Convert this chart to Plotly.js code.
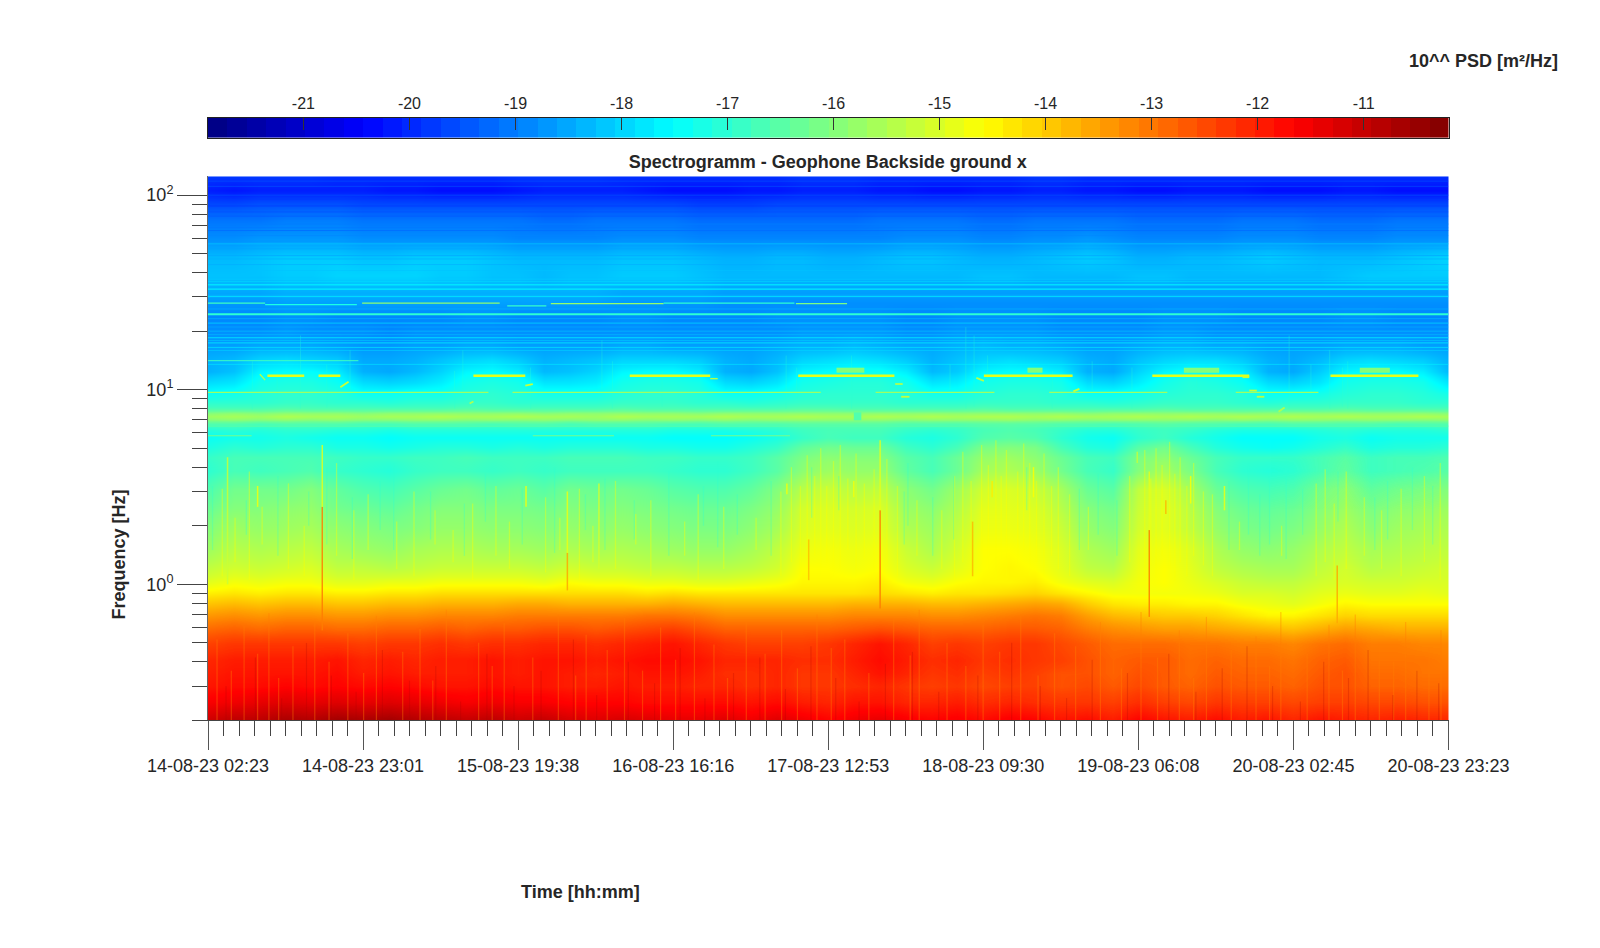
<!DOCTYPE html>
<html><head><meta charset="utf-8">
<script src="https://cdn.plot.ly/plotly-3.0.1.min.js"></script>
<style>html,body{margin:0;padding:0;background:#fff}</style></head>
<body><div id="chart" style="width:1600px;height:948px"></div>
<script>
const timeLabels=['14-08-23 02:23','14-08-23 23:01','15-08-23 19:38','16-08-23 16:16','17-08-23 12:53','18-08-23 09:30','19-08-23 06:08','20-08-23 02:45','20-08-23 23:23'];
const majorHours=[0,20.625,41.25,61.875,82.5,103.125,123.75,144.375,165];
const freqDecades=[1,10,100];
const freqDecadeLabels=['10<sup>0</sup>','10<sup>1</sup>','10<sup>2</sup>'];
const freqMinor=[0.2,0.3,0.4,0.5,0.6,0.7,0.8,0.9,2,3,4,5,6,7,8,9,20,30,40,50,60,70,80,90];
const psdTicks=[-21,-20,-19,-18,-17,-16,-15,-14,-13,-12,-11];
const timeHours=[0,3.44,6.88,10.31,13.75,17.19,20.63,24.06,27.5,30.94,34.38,37.81,41.25,44.69,48.13,51.56,55,58.44,61.88,65.31,68.75,72.19,75.63,79.06,82.5,85.94,89.38,92.81,96.25,99.69,103.13,106.56,110,113.44,116.88,120.31,123.75,127.19,130.63,134.06,137.5,140.94,144.38,147.81,151.25,154.69,158.13,161.56,165];
const freqHz=[0.2,0.25,0.3,0.35,0.4,0.5,0.6,0.7,0.8,0.9, 1,1.2,1.5,2,2.5,3,4,4.5,5,5.7,6.3, 6.7,7,7.3,7.6,7.9,8.5,9.5,11,12.5,14, 17,20,24,28,32,38,48,60,75,90,105,125];
const psdLow=[
[-11.1,-10.9,-10.9,-10.7,-10.8,-10.6,-10.7,-10.6,-10.8,-10.9,-11.0,-10.9,-11.1,-11.0,-11.2,-11.3,-11.2,-11.3,-11.4,-11.4,-11.3,-11.5,-11.3,-11.5,-11.7,-11.5,-11.4,-11.6,-11.7,-11.6,-11.8,-11.6,-11.7,-11.9,-11.8,-12.0,-11.7,-11.9,-12.0,-11.8,-12.0,-11.9,-12.1,-11.9,-12.0,-12.1,-12.0,-12.1,-12.1],
[-11.6,-11.5,-11.4,-11.3,-11.4,-11.3,-11.4,-11.3,-11.4,-11.5,-11.6,-11.5,-11.6,-11.6,-11.7,-11.7,-11.7,-11.8,-11.8,-11.8,-11.8,-11.9,-11.8,-12.0,-12.1,-11.9,-11.9,-12.1,-12.1,-12.0,-12.2,-12.1,-12.2,-12.3,-12.3,-12.4,-12.2,-12.4,-12.5,-12.3,-12.4,-12.4,-12.5,-12.4,-12.4,-12.5,-12.5,-12.6,-12.6],
[-11.9,-11.8,-11.8,-11.7,-11.8,-11.7,-11.8,-11.7,-11.8,-11.9,-11.9,-11.8,-11.9,-11.9,-12.0,-12.0,-11.9,-12.0,-12.0,-12.1,-12.1,-12.2,-12.1,-12.3,-12.3,-12.2,-12.1,-12.3,-12.4,-12.3,-12.5,-12.4,-12.4,-12.6,-12.5,-12.7,-12.5,-12.7,-12.8,-12.6,-12.7,-12.7,-12.8,-12.6,-12.6,-12.8,-12.8,-12.9,-12.9],
[-12.0,-11.9,-11.9,-11.9,-11.9,-11.8,-12.0,-11.9,-12.0,-12.0,-12.0,-11.9,-12.0,-11.9,-12.0,-12.1,-12.0,-11.9,-11.9,-12.0,-12.2,-12.2,-12.1,-12.3,-12.3,-12.1,-11.9,-12.1,-12.3,-12.2,-12.4,-12.3,-12.4,-12.6,-12.6,-12.8,-12.6,-12.7,-12.9,-12.7,-12.8,-12.8,-12.9,-12.7,-12.6,-12.9,-12.9,-13.0,-13.0],
[-12.1,-12.0,-12.0,-12.0,-12.0,-11.9,-12.1,-12.0,-12.1,-12.0,-12.0,-11.9,-12.0,-11.9,-11.9,-12.0,-11.9,-11.8,-11.8,-11.9,-12.1,-12.1,-12.1,-12.2,-12.2,-12.0,-11.8,-12.0,-12.2,-12.1,-12.3,-12.2,-12.3,-12.4,-12.6,-12.8,-12.7,-12.7,-12.9,-12.8,-12.9,-12.9,-13.0,-12.8,-12.7,-13.0,-13.0,-13.0,-13.1],
[-12.4,-12.3,-12.3,-12.3,-12.3,-12.3,-12.4,-12.3,-12.3,-12.2,-12.3,-12.2,-12.2,-12.1,-12.1,-12.2,-12.1,-12.0,-11.9,-12.1,-12.3,-12.4,-12.4,-12.4,-12.3,-12.1,-11.9,-12.1,-12.4,-12.3,-12.4,-12.3,-12.3,-12.5,-12.7,-12.9,-12.9,-12.9,-13.0,-13.0,-13.1,-13.1,-13.2,-13.0,-12.9,-13.1,-13.1,-13.2,-13.2],
[-12.9,-12.8,-12.9,-12.8,-12.8,-12.9,-12.9,-12.8,-12.8,-12.7,-12.8,-12.7,-12.7,-12.6,-12.6,-12.7,-12.6,-12.5,-12.4,-12.6,-12.8,-12.8,-12.8,-12.8,-12.8,-12.7,-12.6,-12.7,-12.8,-12.8,-12.8,-12.7,-12.7,-12.8,-13.1,-13.3,-13.4,-13.5,-13.5,-13.6,-13.7,-13.8,-13.9,-13.7,-13.5,-13.6,-13.7,-13.7,-13.7],
[-13.4,-13.3,-13.4,-13.3,-13.3,-13.4,-13.4,-13.3,-13.3,-13.2,-13.2,-13.2,-13.1,-13.1,-13.1,-13.1,-13.1,-13.0,-13.0,-13.1,-13.3,-13.3,-13.3,-13.3,-13.3,-13.2,-13.2,-13.2,-13.3,-13.3,-13.2,-13.1,-13.0,-13.1,-13.5,-13.8,-13.9,-14.0,-14.0,-14.1,-14.3,-14.5,-14.5,-14.3,-14.1,-14.2,-14.2,-14.2,-14.2],
[-13.9,-13.8,-13.9,-13.8,-13.8,-13.9,-13.9,-13.8,-13.8,-13.7,-13.7,-13.7,-13.6,-13.6,-13.7,-13.7,-13.7,-13.7,-13.6,-13.7,-13.8,-13.8,-13.8,-13.8,-13.8,-13.7,-13.7,-13.7,-13.8,-13.8,-13.7,-13.6,-13.5,-13.6,-14.0,-14.3,-14.4,-14.4,-14.5,-14.5,-14.7,-14.8,-14.9,-14.7,-14.5,-14.6,-14.6,-14.6,-14.6],
[-14.4,-14.3,-14.4,-14.3,-14.3,-14.4,-14.4,-14.3,-14.3,-14.2,-14.2,-14.2,-14.2,-14.2,-14.2,-14.2,-14.2,-14.3,-14.2,-14.3,-14.3,-14.3,-14.3,-14.3,-14.3,-14.3,-14.2,-14.3,-14.4,-14.3,-14.3,-14.2,-14.1,-14.3,-14.5,-14.7,-14.7,-14.7,-14.7,-14.8,-15.0,-15.0,-15.1,-14.9,-14.8,-14.9,-14.9,-14.8,-14.9]];
const psdMid=[
[-14.9,-14.7,-14.8,-14.7,-14.7,-14.9,-14.9,-14.8,-14.8,-14.7,-14.7,-14.7,-14.7,-14.8,-14.6,-14.7,-14.7,-14.8,-14.8,-14.9,-14.9,-14.8,-14.7,-14.5,-14.5,-14.5,-14.4,-14.7,-14.8,-14.6,-14.5,-14.5,-14.4,-14.7,-14.9,-15.0,-14.7,-14.6,-14.8,-15.0,-15.2,-15.3,-15.3,-15.1,-15.0,-15.1,-15.1,-15.0,-15.0],
[-15.3,-15.1,-15.2,-15.1,-15.0,-15.3,-15.3,-15.4,-15.3,-15.2,-15.2,-15.2,-15.2,-15.3,-15.1,-15.2,-15.2,-15.3,-15.3,-15.4,-15.4,-15.3,-15.1,-14.6,-14.6,-14.7,-14.6,-15.0,-15.2,-14.9,-14.6,-14.5,-14.6,-14.9,-15.3,-15.4,-14.8,-14.6,-14.9,-15.3,-15.5,-15.6,-15.6,-15.3,-15.1,-15.4,-15.3,-15.2,-15.1],
[-15.7,-15.4,-15.5,-15.4,-15.3,-15.6,-15.7,-15.8,-15.6,-15.5,-15.5,-15.6,-15.6,-15.7,-15.5,-15.6,-15.5,-15.6,-15.7,-15.8,-15.8,-15.6,-15.3,-14.8,-14.7,-14.8,-14.7,-15.2,-15.5,-15.1,-14.6,-14.6,-14.7,-15.0,-15.5,-15.7,-14.9,-14.7,-15.0,-15.5,-15.8,-15.9,-15.8,-15.5,-15.3,-15.6,-15.5,-15.4,-15.3],
[-16.0,-15.7,-15.8,-15.7,-15.6,-15.9,-16.0,-16.1,-16.0,-15.8,-15.8,-15.9,-15.9,-16.0,-15.8,-15.9,-15.8,-15.9,-16.0,-16.1,-16.1,-15.9,-15.6,-15.0,-14.9,-15.0,-14.9,-15.5,-15.7,-15.3,-14.8,-14.8,-14.9,-15.2,-15.8,-16.0,-15.1,-14.9,-15.3,-15.8,-16.1,-16.2,-16.1,-15.8,-15.5,-15.9,-15.7,-15.6,-15.5],
[-16.3,-16.0,-16.0,-15.9,-15.8,-16.2,-16.3,-16.4,-16.2,-16.0,-16.0,-16.1,-16.1,-16.2,-16.0,-16.1,-16.0,-16.1,-16.2,-16.3,-16.3,-16.1,-15.8,-15.1,-15.0,-15.1,-15.0,-15.7,-15.9,-15.5,-14.9,-14.9,-15.0,-15.4,-16.0,-16.2,-15.2,-14.9,-15.4,-16.0,-16.3,-16.4,-16.3,-16.0,-15.7,-16.1,-15.9,-15.8,-15.7],
[-16.6,-16.2,-16.2,-16.2,-16.0,-16.4,-16.6,-16.7,-16.5,-16.3,-16.2,-16.4,-16.3,-16.5,-16.2,-16.3,-16.2,-16.3,-16.5,-16.6,-16.6,-16.4,-16.0,-15.4,-15.2,-15.4,-15.3,-15.9,-16.2,-15.7,-15.1,-15.0,-15.2,-15.6,-16.3,-16.5,-15.3,-15.0,-15.6,-16.3,-16.6,-16.7,-16.6,-16.2,-15.9,-16.4,-16.2,-16.1,-16.0],
[-17.0,-16.7,-16.8,-16.7,-16.6,-16.9,-17.0,-17.1,-16.9,-16.8,-16.8,-16.9,-16.8,-16.9,-16.8,-16.8,-16.8,-16.8,-16.9,-17.0,-17.0,-16.8,-16.5,-15.9,-15.7,-15.8,-15.8,-16.4,-16.7,-16.3,-15.6,-15.5,-15.7,-16.2,-16.7,-16.9,-16.0,-15.6,-16.1,-16.7,-17.0,-17.1,-17.0,-16.7,-16.4,-16.8,-16.7,-16.6,-16.5],
[-16.9,-16.7,-16.7,-16.7,-16.7,-16.8,-16.9,-16.9,-16.8,-16.8,-16.7,-16.8,-16.8,-16.8,-16.7,-16.7,-16.7,-16.8,-16.8,-16.9,-16.9,-16.8,-16.5,-16.1,-15.9,-16.0,-16.0,-16.5,-16.7,-16.3,-15.8,-15.7,-15.9,-16.3,-16.7,-16.8,-16.1,-15.9,-16.3,-16.7,-16.9,-16.9,-16.9,-16.7,-16.5,-16.8,-16.7,-16.7,-16.6],
[-17.2,-17.0,-17.1,-17.0,-17.0,-17.2,-17.2,-17.3,-17.2,-17.1,-17.1,-17.2,-17.1,-17.2,-17.1,-17.1,-17.1,-17.2,-17.2,-17.3,-17.3,-17.1,-16.9,-16.4,-16.2,-16.3,-16.3,-16.8,-17.0,-16.7,-16.1,-16.0,-16.1,-16.7,-17.1,-17.2,-16.5,-16.2,-16.7,-17.1,-17.3,-17.4,-17.3,-17.1,-16.9,-17.2,-17.1,-17.1,-17.0],
[-17.4,-17.3,-17.3,-17.2,-17.3,-17.4,-17.4,-17.5,-17.4,-17.4,-17.4,-17.4,-17.4,-17.4,-17.4,-17.4,-17.4,-17.4,-17.5,-17.5,-17.5,-17.4,-17.2,-16.9,-16.7,-16.8,-16.8,-17.1,-17.2,-17.0,-16.6,-16.5,-16.6,-17.0,-17.3,-17.4,-17.0,-16.8,-17.1,-17.3,-17.5,-17.5,-17.5,-17.3,-17.2,-17.4,-17.3,-17.3,-17.3],
[-17.1,-17.0,-17.1,-17.0,-17.0,-17.1,-17.1,-17.2,-17.1,-17.1,-17.1,-17.1,-17.1,-17.1,-17.1,-17.1,-17.1,-17.1,-17.2,-17.2,-17.2,-17.1,-17.0,-16.8,-16.7,-16.7,-16.7,-16.9,-17.0,-16.9,-16.7,-16.6,-16.7,-16.9,-17.1,-17.1,-16.9,-16.8,-16.9,-17.1,-17.2,-17.2,-17.2,-17.1,-17.0,-17.1,-17.1,-17.1,-17.0]];
const psdBand=[
[-16.6,-16.6,-16.7,-16.6,-16.6,-16.6,-16.7,-16.7,-16.6,-16.6,-16.6,-16.7,-16.6,-16.6,-16.7,-16.6,-16.6,-16.6,-16.7,-16.7,-16.6,-16.6,-16.6,-16.5,-16.5,-16.5,-16.5,-16.6,-16.6,-16.6,-16.5,-16.5,-16.5,-16.6,-16.6,-16.7,-16.6,-16.5,-16.6,-16.6,-16.7,-16.7,-16.6,-16.6,-16.6,-16.6,-16.7,-16.6,-16.6],
[-16.0,-15.9,-16.0,-15.9,-16.0,-15.9,-16.0,-16.0,-15.9,-15.9,-16.0,-15.9,-16.0,-15.9,-16.0,-15.9,-15.9,-16.0,-15.9,-16.0,-15.9,-16.0,-15.9,-15.9,-15.9,-15.9,-15.9,-16.0,-15.9,-15.9,-15.9,-15.8,-15.9,-15.9,-16.0,-15.9,-15.9,-15.9,-15.9,-16.0,-15.9,-16.0,-15.9,-15.9,-16.0,-15.9,-15.9,-16.0,-15.9],
[-15.7,-15.6,-15.7,-15.5,-15.6,-15.6,-15.7,-15.6,-15.6,-15.5,-15.6,-15.6,-15.5,-15.6,-15.6,-15.7,-15.5,-15.6,-15.6,-15.6,-15.5,-15.6,-15.6,-15.5,-15.6,-15.6,-15.5,-15.6,-15.5,-15.6,-15.5,-15.5,-15.6,-15.5,-15.6,-15.6,-15.5,-15.6,-15.5,-15.6,-15.5,-15.6,-15.5,-15.6,-15.5,-15.6,-15.6,-15.5,-15.6],
[-16.0,-15.9,-16.0,-15.9,-15.9,-15.9,-16.0,-15.9,-15.9,-15.9,-15.9,-15.9,-15.9,-16.0,-15.9,-15.9,-15.9,-15.9,-15.9,-16.0,-15.9,-15.9,-15.9,-15.9,-15.9,-15.9,-15.9,-15.9,-15.9,-15.9,-15.9,-15.9,-15.9,-15.9,-16.0,-15.9,-15.9,-15.9,-15.9,-15.9,-16.0,-15.9,-15.9,-15.9,-15.9,-15.9,-15.9,-15.9,-16.0],
[-16.6,-16.6,-16.6,-16.5,-16.6,-16.6,-16.6,-16.6,-16.6,-16.6,-16.5,-16.6,-16.6,-16.6,-16.6,-16.6,-16.5,-16.6,-16.6,-16.6,-16.6,-16.6,-16.6,-16.5,-16.5,-16.6,-16.6,-16.6,-16.6,-16.6,-16.5,-16.6,-16.6,-16.6,-16.6,-16.6,-16.6,-16.5,-16.6,-16.6,-16.6,-16.6,-16.6,-16.6,-16.5,-16.6,-16.6,-16.6,-16.6],
[-17.0,-17.0,-17.0,-16.9,-16.9,-17.0,-17.0,-17.1,-17.0,-17.0,-16.9,-16.9,-17.0,-17.0,-17.0,-17.0,-16.9,-16.9,-16.9,-17.0,-17.0,-17.1,-17.0,-16.9,-16.9,-16.9,-16.9,-17.0,-17.0,-17.0,-16.9,-16.9,-16.9,-17.0,-17.0,-17.1,-17.0,-16.9,-16.9,-16.9,-17.0,-17.1,-17.0,-17.0,-16.9,-16.9,-16.9,-17.0,-17.0],
[-17.4,-17.3,-17.1,-17.0,-17.0,-17.1,-17.4,-17.4,-17.3,-17.3,-17.1,-17.0,-17.1,-17.3,-17.3,-17.3,-17.1,-17.0,-17.0,-17.1,-17.4,-17.4,-17.3,-17.1,-17.0,-17.0,-17.0,-17.1,-17.3,-17.3,-17.1,-17.0,-17.0,-17.1,-17.4,-17.4,-17.3,-17.1,-17.0,-17.0,-17.1,-17.4,-17.4,-17.3,-17.1,-17.0,-17.0,-17.1,-17.3],
[-17.9,-17.8,-17.3,-17.2,-17.2,-17.4,-17.9,-18.0,-17.9,-17.7,-17.3,-17.2,-17.3,-17.8,-17.8,-17.7,-17.3,-17.2,-17.2,-17.3,-17.9,-18.0,-17.8,-17.3,-17.2,-17.1,-17.1,-17.3,-17.8,-17.7,-17.3,-17.2,-17.2,-17.3,-17.9,-18.0,-17.7,-17.3,-17.1,-17.2,-17.4,-17.9,-18.0,-17.8,-17.3,-17.2,-17.2,-17.3,-17.8],
[-18.4,-18.2,-17.6,-17.5,-17.5,-17.7,-18.4,-18.5,-18.3,-18.0,-17.6,-17.5,-17.7,-18.3,-18.2,-18.0,-17.6,-17.5,-17.5,-17.7,-18.4,-18.5,-18.2,-17.6,-17.5,-17.4,-17.4,-17.7,-18.3,-18.1,-17.6,-17.5,-17.5,-17.7,-18.4,-18.5,-18.0,-17.6,-17.4,-17.5,-17.7,-18.4,-18.5,-18.1,-17.6,-17.5,-17.5,-17.7,-18.3],
[-18.4,-18.3,-18.0,-17.9,-18.0,-18.1,-18.5,-18.5,-18.4,-18.2,-18.0,-17.9,-18.1,-18.4,-18.3,-18.2,-18.0,-18.0,-18.0,-18.1,-18.4,-18.5,-18.3,-18.0,-17.9,-17.8,-17.9,-18.1,-18.4,-18.2,-18.0,-17.9,-18.0,-18.1,-18.4,-18.5,-18.2,-18.0,-17.9,-17.9,-18.1,-18.4,-18.5,-18.3,-18.0,-17.9,-18.0,-18.1,-18.4]];
const psdHigh=[
[-18.6,-18.6,-18.5,-18.5,-18.5,-18.6,-18.7,-18.7,-18.6,-18.6,-18.5,-18.5,-18.6,-18.6,-18.6,-18.6,-18.5,-18.5,-18.6,-18.6,-18.6,-18.6,-18.5,-18.4,-18.4,-18.3,-18.4,-18.5,-18.5,-18.4,-18.3,-18.4,-18.4,-18.5,-18.6,-18.6,-18.5,-18.4,-18.4,-18.5,-18.5,-18.6,-18.6,-18.6,-18.5,-18.5,-18.5,-18.6,-18.6],
[-18.8,-18.8,-18.8,-18.7,-18.8,-18.8,-18.8,-18.9,-18.8,-18.8,-18.8,-18.8,-18.8,-18.8,-18.8,-18.8,-18.8,-18.8,-18.8,-18.8,-18.8,-18.8,-18.8,-18.7,-18.7,-18.7,-18.7,-18.8,-18.8,-18.7,-18.7,-18.7,-18.7,-18.8,-18.8,-18.8,-18.8,-18.7,-18.7,-18.8,-18.8,-18.8,-18.8,-18.8,-18.8,-18.8,-18.8,-18.8,-18.8],
[-18.9,-18.9,-18.9,-18.8,-18.8,-18.9,-18.9,-18.9,-18.9,-18.9,-18.8,-18.8,-18.9,-18.9,-18.9,-18.9,-18.8,-18.8,-18.9,-18.9,-18.9,-18.9,-18.8,-18.8,-18.8,-18.8,-18.8,-18.9,-18.9,-18.8,-18.8,-18.8,-18.8,-18.9,-18.9,-18.9,-18.9,-18.8,-18.8,-18.8,-18.9,-18.9,-18.9,-18.9,-18.8,-18.8,-18.9,-18.9,-18.9],
[-18.7,-18.7,-18.7,-18.6,-18.6,-18.6,-18.6,-18.6,-18.6,-18.6,-18.6,-18.6,-18.6,-18.6,-18.6,-18.6,-18.7,-18.7,-18.7,-18.7,-18.8,-18.8,-18.8,-18.8,-18.8,-18.8,-18.8,-18.8,-18.8,-18.8,-18.8,-18.8,-18.8,-18.8,-18.8,-18.8,-18.8,-18.8,-18.8,-18.8,-18.8,-18.8,-18.8,-18.8,-18.8,-18.8,-18.8,-18.8,-18.8],
[-18.5,-18.5,-18.5,-18.4,-18.4,-18.4,-18.4,-18.4,-18.4,-18.4,-18.4,-18.4,-18.4,-18.4,-18.4,-18.4,-18.5,-18.5,-18.5,-18.5,-18.6,-18.6,-18.6,-18.6,-18.6,-18.6,-18.6,-18.6,-18.6,-18.6,-18.6,-18.6,-18.6,-18.6,-18.6,-18.6,-18.6,-18.6,-18.6,-18.6,-18.6,-18.6,-18.6,-18.6,-18.6,-18.6,-18.6,-18.6,-18.6],
[-18.2,-18.2,-18.2,-18.1,-18.1,-18.0,-18.0,-18.0,-18.0,-18.1,-18.1,-18.2,-18.2,-18.3,-18.2,-18.2,-18.1,-18.1,-18.1,-18.2,-18.3,-18.3,-18.3,-18.3,-18.3,-18.3,-18.3,-18.3,-18.3,-18.3,-18.2,-18.2,-18.3,-18.3,-18.3,-18.3,-18.2,-18.2,-18.3,-18.3,-18.3,-18.3,-18.3,-18.3,-18.2,-18.1,-18.1,-18.1,-18.1],
[-18.3,-18.3,-18.2,-18.1,-18.1,-18.1,-18.2,-18.2,-18.1,-18.1,-18.1,-18.2,-18.3,-18.3,-18.3,-18.3,-18.2,-18.2,-18.2,-18.3,-18.4,-18.4,-18.3,-18.3,-18.4,-18.4,-18.3,-18.2,-18.2,-18.3,-18.4,-18.4,-18.3,-18.2,-18.1,-18.2,-18.4,-18.4,-18.3,-18.3,-18.2,-18.1,-18.2,-18.3,-18.3,-18.3,-18.2,-18.1,-18.0],
[-18.8,-18.8,-18.7,-18.7,-18.7,-18.7,-18.8,-18.8,-18.8,-18.8,-18.8,-18.8,-18.9,-18.9,-18.9,-18.9,-18.8,-18.8,-18.8,-18.9,-18.9,-18.9,-18.9,-18.9,-18.9,-18.9,-18.9,-18.8,-18.8,-18.8,-18.9,-18.9,-18.8,-18.8,-18.7,-18.8,-18.9,-18.9,-18.9,-18.9,-18.8,-18.8,-18.8,-18.9,-18.9,-18.9,-18.8,-18.8,-18.8],
[-19.1,-19.1,-19.1,-19.0,-19.0,-19.0,-19.1,-19.1,-19.1,-19.1,-19.1,-19.1,-19.1,-19.2,-19.2,-19.1,-19.1,-19.1,-19.1,-19.2,-19.2,-19.2,-19.2,-19.2,-19.2,-19.2,-19.1,-19.1,-19.1,-19.1,-19.2,-19.2,-19.1,-19.1,-19.1,-19.1,-19.2,-19.2,-19.2,-19.2,-19.1,-19.1,-19.1,-19.2,-19.2,-19.2,-19.1,-19.1,-19.1],
[-19.6,-19.6,-19.5,-19.5,-19.5,-19.5,-19.6,-19.6,-19.6,-19.6,-19.6,-19.6,-19.6,-19.6,-19.6,-19.6,-19.6,-19.6,-19.6,-19.7,-19.7,-19.7,-19.6,-19.6,-19.6,-19.6,-19.6,-19.6,-19.6,-19.6,-19.6,-19.6,-19.6,-19.6,-19.6,-19.6,-19.6,-19.6,-19.6,-19.6,-19.6,-19.6,-19.6,-19.6,-19.6,-19.6,-19.6,-19.6,-19.6],
[-20.1,-20.2,-20.1,-20.1,-20.1,-20.1,-20.1,-20.2,-20.2,-20.3,-20.3,-20.3,-20.2,-20.1,-20.1,-20.1,-20.1,-20.2,-20.3,-20.3,-20.3,-20.2,-20.2,-20.1,-20.1,-20.1,-20.2,-20.2,-20.3,-20.3,-20.2,-20.2,-20.1,-20.1,-20.2,-20.2,-20.3,-20.3,-20.2,-20.2,-20.2,-20.3,-20.3,-20.3,-20.2,-20.2,-20.3,-20.3,-20.3],
[-19.8,-19.8,-19.8,-19.8,-19.8,-19.9,-19.9,-19.9,-19.9,-19.9,-19.9,-19.9,-19.8,-19.8,-19.8,-19.8,-19.9,-19.9,-19.9,-19.9,-19.9,-19.9,-19.9,-19.8,-19.8,-19.8,-19.9,-19.9,-19.9,-19.9,-19.9,-19.9,-19.8,-19.8,-19.9,-19.9,-19.9,-19.9,-19.9,-19.9,-19.9,-19.9,-19.9,-19.9,-19.9,-19.9,-19.9,-19.9,-19.9],
[-19.5,-19.5,-19.5,-19.5,-19.5,-19.5,-19.5,-19.5,-19.5,-19.5,-19.5,-19.5,-19.5,-19.5,-19.5,-19.5,-19.5,-19.5,-19.5,-19.5,-19.5,-19.5,-19.5,-19.5,-19.5,-19.5,-19.5,-19.5,-19.5,-19.5,-19.5,-19.5,-19.5,-19.5,-19.5,-19.5,-19.5,-19.5,-19.5,-19.5,-19.5,-19.5,-19.5,-19.5,-19.5,-19.5,-19.5,-19.5,-19.5]];
// narrow spectral lines and short tracks: start hour, end hour, start/end frequency, PSD level
const lineStart=[0,0,0,0,0,0,0,0,0,0,0,0,0,0,0,7.6,20.5,39.8,45.6,60.6,78.2,6.9,7.9,14.7,35.3,56.1,78.5,103.2,125.6,149.3,83.6,109,129.8,153.2,0,40.5,88.8,111.9,136.7,0,43.2,66.9,0,0,85.9,17.6,42.2,66.8,34.8,91.4,92.2,102.2,115.1,137.6,138.5,139.5,142.4];
const lineEnd=[165,165,165,165,165,165,165,165,165,165,165,165,165,165,7.6,19.8,38.8,45,60.6,78,85,7.6,12.8,17.6,42.2,66.8,91.3,115,138.5,161,87.3,111,134.5,157.2,37.3,81.5,104.6,127.6,147.7,5.8,54,77.4,165,20,86.9,18.7,43.2,67.8,35.3,92.4,93.3,103.2,115.9,138.5,139.5,140.5,143.2];
const lineFreqA=[100,71,65.8,56.2,48.9,47,34.6,32.9,30.1,24.4,22,18.5,17.4,16.5,27.9,27.4,27.9,27,27.7,27.9,27.7,12,11.8,11.8,11.8,11.8,11.8,11.8,11.8,11.8,12.6,12.6,12.6,12.6,9.7,9.7,9.7,9.7,9.7,5.8,5.8,5.8,6.5,14.1,7.3,10.3,10.5,11.4,8.5,10.7,9.2,11.5,9.8,11.6,9.9,9.2,7.7];
const lineFreqB=[100,71,65.8,56.2,48.9,47,34.6,32.9,30.1,24.4,22,18.5,17.4,16.5,27.9,27.4,27.9,27,27.7,27.9,27.7,11.2,11.8,11.8,11.8,11.8,11.8,11.8,11.8,11.8,12.6,12.6,12.6,12.6,9.7,9.7,9.7,9.7,9.7,5.8,5.8,5.8,6.5,14.1,7.3,11,10.7,11.4,8.7,10.7,9.2,11.1,10.1,11.6,9.9,9.2,8.1];
const lineLevel=[-19.6,-19.0,-19.2,-18.2,-18.5,-18.4,-17.6,-17.5,-17.7,-17.0,-18,-17.7,-17.7,-17.9,-16.8,-17.2,-15.9,-16.9,-15.8,-17,-16.1,-15.5,-14.9,-14.9,-14.9,-14.9,-14.9,-14.9,-14.9,-14.9,-16,-16,-16,-16,-15.7,-15.7,-15.7,-15.7,-15.7,-16.2,-16.2,-16.2,-16.5,-16.8,-16.6,-15.2,-15.2,-15.4,-15.5,-15.5,-15.3,-15.4,-15.3,-15.2,-15.3,-15.4,-15.5];
const lineWeight=[0.8,0.8,0.8,0.8,0.8,0.8,1,1,0.8,2,0.8,0.8,0.8,0.8,1.2,1.2,1.3,1.3,1.3,1.2,1.3,1.4,2.5,2.5,2.5,2.5,2.5,2.5,2.5,2.5,5,5,5,5,1.2,1.2,1.2,1.2,1.2,1,1,1,1,1,8,1.8,1.8,1.4,1.8,1.8,1.8,1.8,1.8,1.8,1.8,1.8,1.8];
// faint full-width lines in the upper band
const faintFreq=[118,111,95,88,82,78,68,62,58,53,44,41,37,36,30.6,26,23.2,21,20,19.2,17.9,15.9,13.5];
const faintLevel=[-19.4,-19.3,-19.8,-19.9,-19.6,-19.5,-19.1,-18.9,-18.8,-18.6,-18.5,-18.2,-18.0,-17.9,-18.1,-18.2,-18.2,-18.3,-18.0,-18.2,-18.0,-17.9,-17.6];
// strongest vertical events: hour, low/high frequency, PSD level
const spikeHour=[15.2,15.2,47.8,47.8,2.6,89.4,89.4,101.7,125.2,125.2,150.2,6.6,42.3,52,77,130.7,135.2,123.6,127.4,85.9,79.9,104.3,109.8];
const spikeLow=[0.58,2.5,0.93,1.45,1,0.75,2.4,1.1,0.68,1.9,0.63,2.5,2.5,1.2,2.9,2.6,2.4,4.2,2.3,2.8,1.05,2.8,2.8];
const spikeHigh=[2.5,5.2,1.45,3,4.5,2.4,5.5,2.1,1.9,3.8,1.25,3.2,3.2,3.3,3.3,3.6,3.2,4.8,2.7,3.4,1.7,3.4,4];
const spikeLevel=[-13.1,-14.9,-13.6,-14.8,-15.2,-13.1,-14.9,-13.8,-13.1,-14.9,-13.6,-14.7,-14.7,-15.1,-14.7,-14.6,-14.8,-15.3,-13.8,-14.7,-13.9,-14.4,-14.6];
// fine vertical streaks
const paleHours=[1.2,3.1,4.8,6.6,8.1,9.4,11.3,14.2,16.1,18.6,20.7,22.4,25.9,28.2,29.9,31.7,36,37.8,39.4,43.2,46.6,48.9,50.3,53.1,55.4,57.8,60.2,62.2,64.7,67.3,69.1,71.6,74.1,76.3,78.4,81,82.9,84.7,87.9,91.2,93.4,94.6,98.3,100.8,103.1,105.3,108.1,110.4,112.6,115.4,118.7,121.5,124.1,126.3,129.2,131.1,132.8,136.1,139.4,141.2,142.7,146.2,149.1,150.9,152.6,155.8,157.7,159.3,162.4,164];
const paleTop=[0.52,0.36,0.61,0.44,0.71,0.33,0.48,0.66,0.4,0.56,0.35,0.69,0.45,0.59,0.32,0.74,0.5,0.38,0.63,0.42,0.7,0.34,0.55,0.46,0.67,0.36,0.6,0.41,0.72,0.49,0.33,0.64,0.44,0.58,0.37,0.7,0.47,0.52,0.35,0.66,0.43,0.74,0.5,0.38,0.62,0.45,0.69,0.34,0.56,0.48,0.64,0.37,0.72,0.42,0.58,0.33,0.68,0.46,0.54,0.38,0.72,0.44,0.62,0.36,0.7,0.5,0.4,0.64,0.47,0.58];
const darkHours=[2.4,6.3,9.8,13.1,16.4,19.7,23.2,26.8,30.3,33.6,37.1,40.7,44.3,48.6,51.7,55.9,59.4,62.8,66.1,69.9,73.4,76.8,80.2,83.5,86.6,90.1,93.7,97.2,102.4,106.9,110.7,114.2,117.6,122.3,127.8,131.4,134.9,138.2,141.6,145.3,148.4,151.7,154.3,157.6,160.8,163.7];
const darkTop=[0.3,0.42,0.26,0.5,0.34,0.28,0.46,0.32,0.38,0.25,0.44,0.3,0.36,0.52,0.27,0.4,0.31,0.47,0.26,0.35,0.42,0.29,0.48,0.33,0.25,0.39,0.45,0.28,0.34,0.5,0.3,0.26,0.41,0.35,0.44,0.28,0.37,0.48,0.3,0.25,0.4,0.33,0.46,0.27,0.36,0.31];
const brightHours=[1.9,3.6,5.5,7.2,10.7,12.8,17.1,19.4,21.3,25.1,27.4,30.2,32.6,35.2,38.3,40.1,44.9,46.8,49.4,51.2,54.2,56.9,58.9,63.4,65.2,68.6,72.9,76.2,77.6,78.8,79.7,80.7,81.5,82.3,83.2,84.1,85.1,86.2,87.3,88.6,90.3,91.7,94.3,97.6,99.3,100.4,101.5,102.9,103.8,104.8,105.5,106.2,107.7,108.5,109.3,110.2,111.2,112.2,113.1,114.6,117.1,122.6,124.6,125.4,126.1,126.9,127.9,128.6,129.3,130.2,131.1,132.4,133.6,137.2,142.8,147.4,148.6,149.8,151.4,153.8,156.1,158.7,161.8,163.9];
const brightLow=[1.1,1.3,1.05,1.6,1.2,1.1,1.4,1.05,1.5,1.2,1.1,1.6,1.3,1.05,1.4,1.2,1.15,1.5,1.05,1.3,1.2,1.6,1.1,1.4,1.05,1.2,1.5,1.1,1.3,1.05,1.2,1.4,1.1,1.3,1.05,1.2,1.5,1.1,1.35,1.05,1.25,1.1,1.4,1.2,1.05,1.3,1.1,1.5,1.2,1.05,1.35,1.1,1.25,1.5,1.1,1.3,1.05,1.4,1.2,1.1,1.5,1.3,1.05,1.25,1.1,1.4,1.2,1.05,1.3,1.1,1.4,1.25,1.1,1.5,1.4,1.1,1.3,1.05,1.2,1.4,1.2,1.1,1.3,1.05];
const brightHigh=[3.1,2.2,3.8,2.5,3.3,2,4.2,2.4,2.9,2.1,3,2.4,1.9,2.6,3.2,2.1,2.8,2.2,3.1,2,3.4,2.3,2.7,2.1,2.9,2.5,2.2,3,4,3.2,4.6,3.6,5,3.2,4.3,5.2,3.5,4.7,3.3,3.9,4.4,3.2,2.7,2.4,3.6,4.8,3.4,5.2,4.1,5.5,3.6,4.9,3.8,5.3,4.2,3.4,4.7,3.2,4,2.9,2.5,3.6,4.9,3.5,5,4.1,5.4,3.7,4.5,3.2,4.2,3,2.9,2.1,2,3.3,3.9,2.6,3.8,2.8,2.4,3.1,3.6,4.2];
const coolHours=[0.6,5.1,9.3,13.4,15.8,19.2,22.9,24.7,29.6,34.1,36.9,41.8,46.1,50.2,52.8,56.7,61.3,65.9,67.8,70.4,74.9,80.3,83.9,92.6,93.1,96.4,99.2,108.9,115.9,118.4,120.9,135.8,138.4,139.9,141.2,143.4,145.6,150.3,155.2,156.9,160.2,162.9];
const coolLow=[1.5,1.8,1.4,2,1.6,1.35,1.9,1.5,1.7,1.4,2.1,1.6,1.45,1.9,1.5,1.7,1.4,2,1.55,1.8,1.4,2.2,2.4,1.6,2,1.4,1.7,2.4,1.5,1.8,1.4,1.5,1.8,1.4,1.6,1.35,1.8,2.1,1.5,1.7,1.9,1.6];
const coolHigh=[3.2,2.7,3.6,3,4,2.8,3.4,4.2,3,2.6,3.7,3.1,4,2.9,3.5,2.7,3.8,3.2,4.3,2.9,3.4,4,3.6,3,4.2,2.8,3.6,4,3.1,3.7,2.7,3.4,4.2,2.9,3.6,4.4,3.1,3.8,2.8,3.4,4,3.2];
const hairHours=[5.9,9.2,12.3,15.8,18.9,32.8,33.9,42.9,52.4,53.8,60.4,76.9,78.3,85.6,98.7,100.8,101.9,103.7,112.3,117.6,122.9,131.5,143.8,146.7,149.2,150.9,151.6];
const hairLow=[7.9,9,8,8.1,9,8,9.2,8,10.1,8,8.2,8,9,8,10,8,8.2,10,8,9.9,8,10,8,9,8,8.2,8];
const hairHigh=[14,12.5,19,13.5,16,12.5,16,13,18,14,12.5,15,13,15,13.5,21,19,15,12.5,14,13,13,19,13.5,16,13,14];
const paleLevel=-13.1,darkLevel=-10.6,brightLevel=-14.6,coolLevel=-17.0,hairLevel=-17.0;
const paleBase=0.2,darkBase=0.2;

const Z_MIN=-21.9,Z_MAX=-10.2;
function jetAt(t){
  const c=v=>Math.round(255*Math.max(0,Math.min(1,v)));
  return 'rgb('+c(1.5-Math.abs(4*t-3))+','+c(1.5-Math.abs(4*t-2))+','+c(1.5-Math.abs(4*t-1))+')';
}
const levelColor=v=>jetAt((v-Z_MIN)/(Z_MAX-Z_MIN));
const smoothJet=[];for(let k=0;k<=32;k++)smoothJet.push([k/32,jetAt(k/32)]);
const steppedJet=[];const barLevels=[];
for(let k=0;k<64;k++){const col=jetAt((k+0.5)/64);steppedJet.push([k/64,col],[(k+1)/64,col]);barLevels.push(Z_MIN+(k+0.5)*(Z_MAX-Z_MIN)/64);}
const minorHours=[];
for(let i=0;i<8;i++)for(let k=1;k<10;k++)minorHours.push(majorHours[i]+(majorHours[i+1]-majorHours[i])*k/10);

const TXT='#262626',FONT='"Liberation Sans",Arial,sans-serif';
const traces=[
 {type:'heatmap',x:timeHours,y:freqHz,z:psdLow.concat(psdMid,psdBand,psdHigh),zmin:Z_MIN,zmax:Z_MAX,zsmooth:'best',colorscale:smoothJet,showscale:false,hoverinfo:'skip'},
 {type:'heatmap',x:barLevels,y:[0,1],z:[barLevels,barLevels],xaxis:'x2',yaxis:'y2',zmin:Z_MIN,zmax:Z_MAX,colorscale:steppedJet,showscale:false,hoverinfo:'skip'}];
function streaks(hours,lows,highs,level,width,opacity){
  const x=[],y=[];hours.forEach((h,i)=>{x.push(h,h,null);y.push(lows[i],highs[i],null);});
  traces.push({type:'scatter',mode:'lines',x,y,line:{color:levelColor(level),width},opacity,hoverinfo:'skip',showlegend:false});
}
streaks(paleHours,paleHours.map(()=>paleBase),paleTop,paleLevel,1.2,0.4);
streaks(darkHours,darkHours.map(()=>darkBase),darkTop,darkLevel,1.2,0.22);
streaks(brightHours,brightLow,brightHigh,brightLevel,1.3,0.38);
streaks(coolHours,coolLow,coolHigh,coolLevel,1.3,0.28);
streaks(hairHours,hairLow,hairHigh,hairLevel,1,0.3);
faintFreq.forEach((f,i)=>traces.push({type:'scatter',mode:'lines',x:[0,165],y:[f,f],line:{color:levelColor(faintLevel[i]),width:0.8},opacity:0.6,hoverinfo:'skip',showlegend:false}));
lineStart.forEach((s,i)=>traces.push({type:'scatter',mode:'lines',x:[s,lineEnd[i]],y:[lineFreqA[i],lineFreqB[i]],line:{color:levelColor(lineLevel[i]),width:lineWeight[i]},hoverinfo:'skip',showlegend:false}));
spikeHour.forEach((h,i)=>traces.push({type:'scatter',mode:'lines',x:[h,h],y:[spikeLow[i],spikeHigh[i]],line:{color:levelColor(spikeLevel[i]),width:1.5},opacity:0.85,hoverinfo:'skip',showlegend:false}));

const W=1600,H=948,L=208,R=1448.5,T=176.3,B=720.3;
const px=x=>x/W,py=y=>1-y/H;
const layout={width:W,height:H,paper_bgcolor:'#fff',plot_bgcolor:'#fff',showlegend:false,font:{family:FONT,color:TXT},
  margin:{l:0,r:0,t:0,b:0,pad:0},
  title:{text:'<b>Spectrogramm - Geophone Backside ground x</b>',font:{family:FONT,size:18,color:TXT},xref:'paper',x:px(827.7),xanchor:'center',yref:'paper',y:py(162),yanchor:'middle'},
  xaxis:{domain:[px(L),px(R)],anchor:'y',range:[0,165],tickmode:'array',tickvals:majorHours,ticktext:timeLabels,ticks:'outside',ticklen:29,tickcolor:'#555',tickwidth:1,tickangle:0,tickfont:{family:FONT,size:18,color:TXT},showgrid:false,zeroline:false,showline:true,linecolor:'#444',linewidth:1,
    minor:{tickmode:'array',tickvals:minorHours,ticks:'outside',ticklen:14.5,tickcolor:'#444',tickwidth:1,showgrid:false}},
  yaxis:{domain:[py(B),py(T)],anchor:'x',type:'log',range:[Math.log10(0.2),Math.log10(125)],tickmode:'array',tickvals:freqDecades,ticktext:freqDecadeLabels,ticks:'outside',ticklen:30,tickcolor:'#444',tickwidth:1,tickfont:{family:FONT,size:18,color:TXT},showgrid:false,zeroline:false,showline:true,linecolor:'#666',linewidth:1,
    minor:{tickmode:'array',tickvals:freqMinor,ticks:'outside',ticklen:15,tickcolor:'#444',tickwidth:1,showgrid:false}},
  xaxis2:{domain:[px(L),px(R)],anchor:'y2',side:'top',range:[Z_MIN,Z_MAX],tickmode:'array',tickvals:psdTicks,ticktext:psdTicks.map(String),ticks:'inside',ticklen:12,tickcolor:'#333',tickwidth:1,tickfont:{family:FONT,size:16,color:TXT},ticklabelstandoff:1,showgrid:false,zeroline:false,showline:true,mirror:true,linecolor:'#222',linewidth:1},
  yaxis2:{domain:[py(137.7),py(117.8)],anchor:'x2',range:[-0.5,1.5],showticklabels:false,ticks:'',showgrid:false,zeroline:false,showline:true,mirror:true,linecolor:'#222',linewidth:1},
  annotations:[
    {text:'<b>Time [hh:mm]</b>',xref:'paper',yref:'paper',x:px(580.5),y:py(892),xanchor:'center',yanchor:'middle',showarrow:false,font:{family:FONT,size:18,color:TXT}},
    {text:'<b>Frequency [Hz]</b>',xref:'paper',yref:'paper',x:px(118.5),y:py(555),xanchor:'center',yanchor:'middle',textangle:-90,showarrow:false,font:{family:FONT,size:18,color:TXT}},
    {text:'<b>10^^ PSD [m²/Hz]</b>',xref:'paper',yref:'paper',x:px(1560),y:py(61),xanchor:'right',yanchor:'middle',showarrow:false,font:{family:FONT,size:18,color:TXT}}]};
Plotly.newPlot('chart',traces,layout,{displayModeBar:false,responsive:false});
</script></body></html>
